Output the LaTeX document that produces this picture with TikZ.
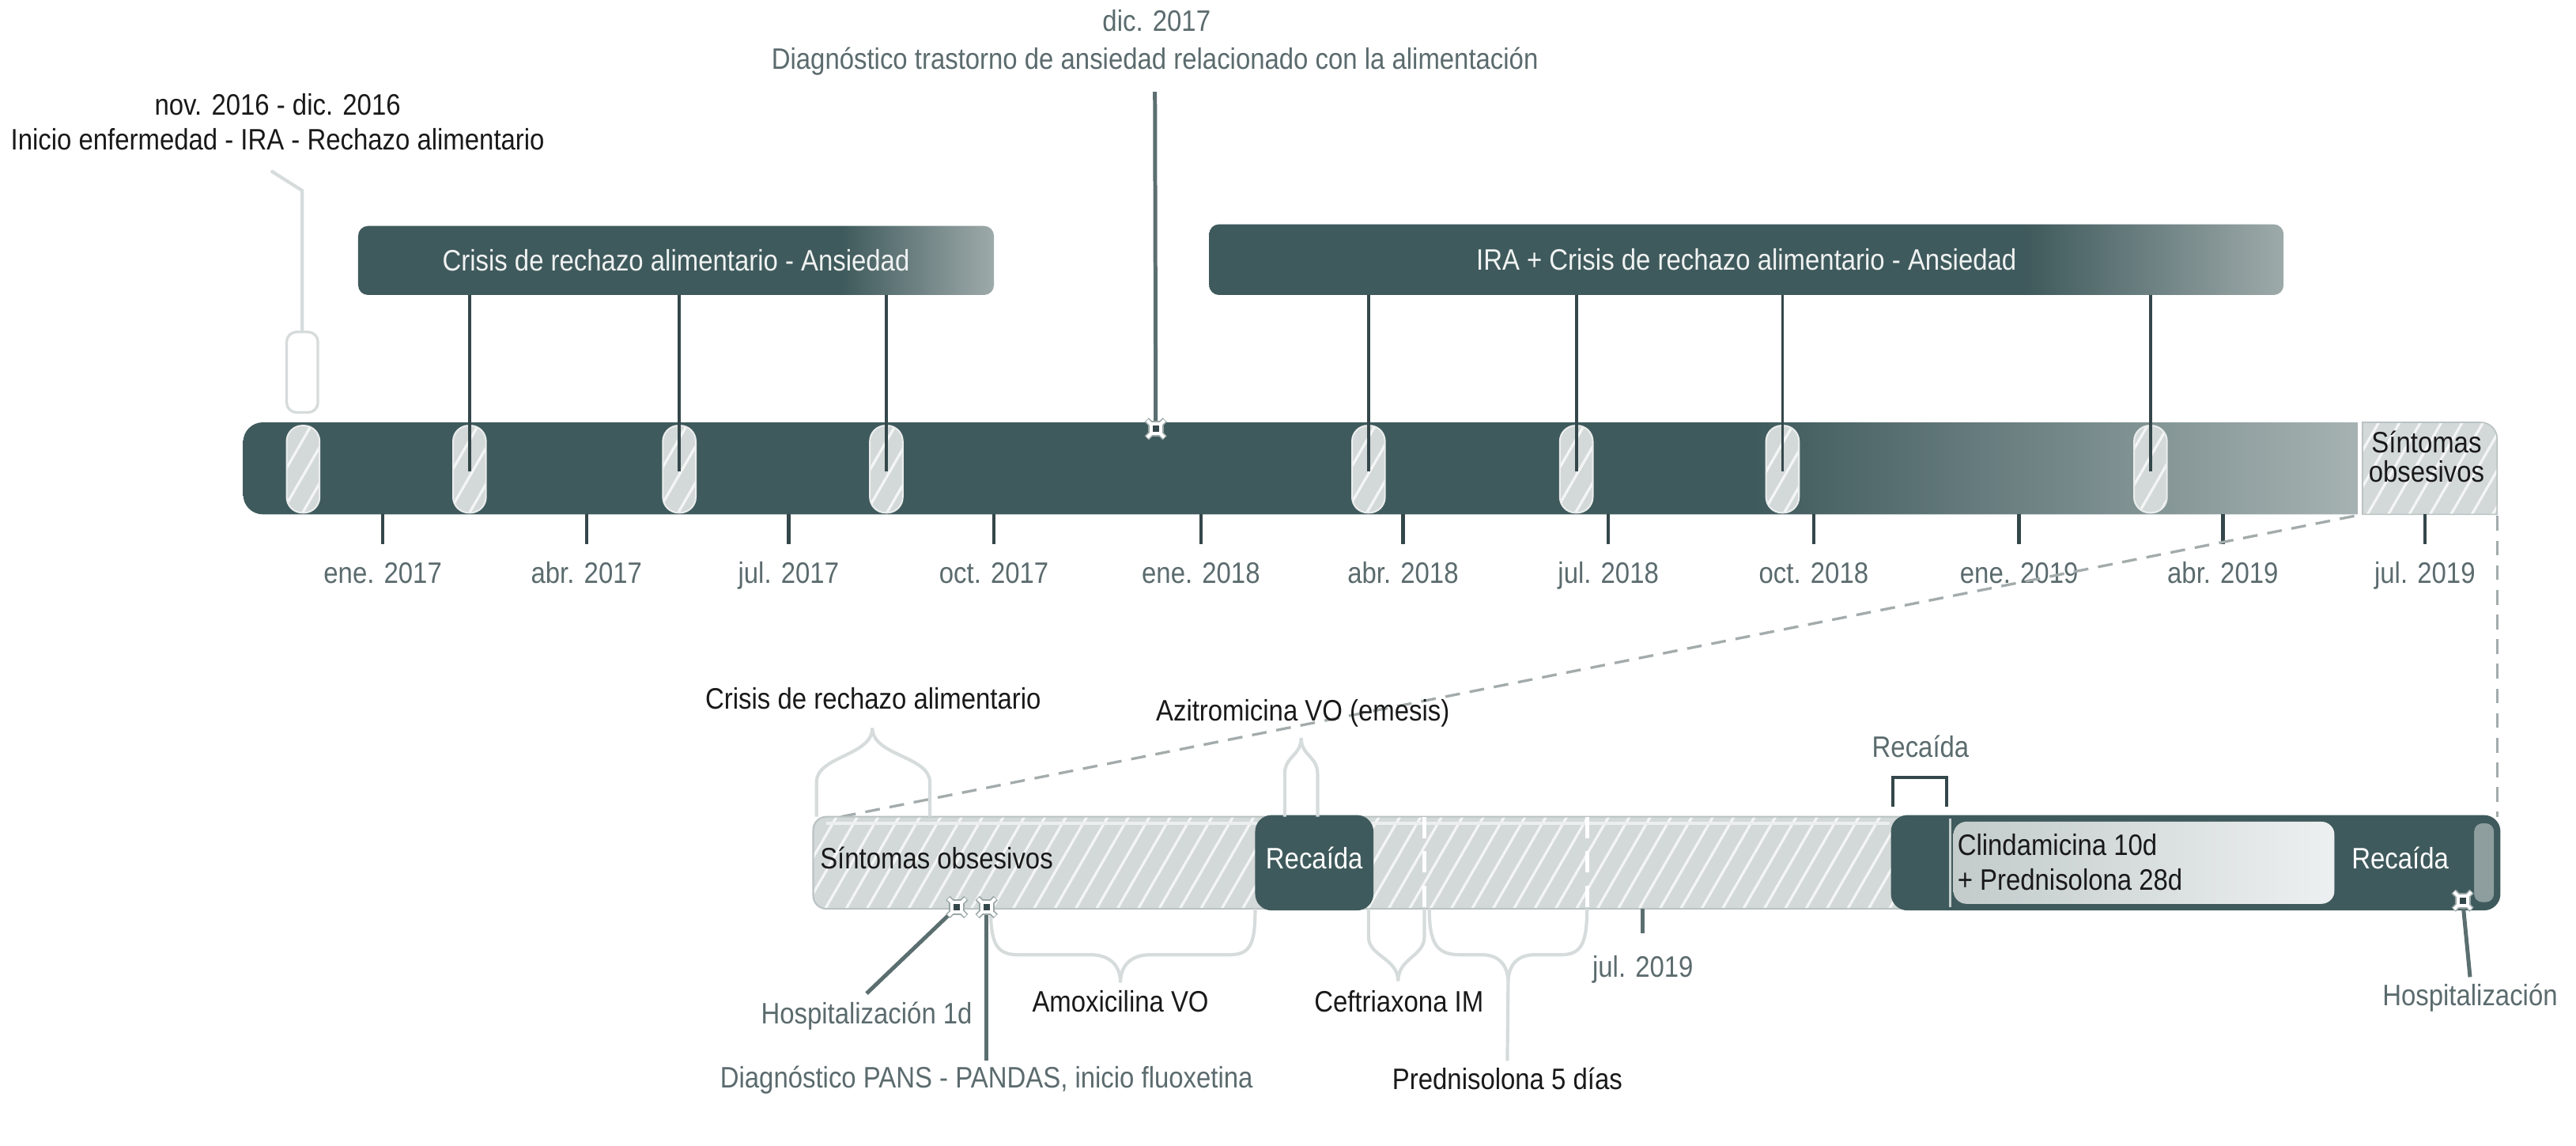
\documentclass[tikz,border=0pt]{standalone}
\usepackage{fontspec}
\setmainfont{Liberation Sans}[FakeStretch=0.88]
\usetikzlibrary{patterns.meta,calc}

\definecolor{tealD}{HTML}{3F5A5C}
\definecolor{tealL}{HTML}{A6B2B2}
\definecolor{boxL}{HTML}{9EAAAA}
\definecolor{hatchF}{HTML}{D3D8D8}
\definecolor{hatchB}{HTML}{BAC2C2}
\definecolor{txtG}{HTML}{5B6B6E}
\definecolor{lineD}{HTML}{34474A}
\definecolor{lineM}{HTML}{5B6E70}
\definecolor{braceC}{HTML}{D6DBDB}
\definecolor{dashC}{HTML}{A3ABAB}
\definecolor{endG}{HTML}{8E9E9E}
\definecolor{clindL}{HTML}{C3CBCB}
\definecolor{clindR}{HTML}{EDF0F0}
\definecolor{mkEdge}{HTML}{9AA6A6}

\pgfdeclarehorizontalshading{barshade}{100bp}{color(0bp)=(tealD); color(25bp)=(tealD); color(60bp)=(tealD); color(74bp)=(tealL); color(100bp)=(tealL)}
\pgfdeclarehorizontalshading{boxshade}{100bp}{color(0bp)=(tealD); color(25bp)=(tealD); color(63bp)=(tealD); color(75bp)=(boxL); color(100bp)=(boxL)}

\newcommand{\fs}{\fontsize{18}{21}\selectfont}

\begin{document}
\begin{tikzpicture}[x=1pt,y=-1pt,
  lbl/.style={font=\fs, text=black!90, inner sep=0pt, anchor=base},
  glbl/.style={lbl, text=txtG},
  wlbl/.style={lbl, text=white},
  hatch/.style={preaction={fill=hatchF}, pattern={Lines[angle=60,distance=11pt,line width=1.6pt]}, pattern color=white!75!hatchF},
  capsule/.style={hatch, draw=white!55!hatchF, line width=1pt, rounded corners=9.5pt},
  topbox/.style={shading=boxshade, rounded corners=6pt, font=\fs, text=white!92!tealD, inner sep=0pt},
  conn/.style={draw=lineD, line width=1.8pt},
  connM/.style={draw=lineM, line width=2.4pt},
  tickln/.style={draw=lineD, line width=2.2pt},
  brace/.style={draw=braceC, line width=2pt},
  zoomln/.style={draw=dashC, line width=1.6pt, dash pattern=on 9pt off 6pt},
  marker/.pic={
    \draw[mkEdge, line width=3.6pt] (-5.5,-5.5) -- (5.5,5.5) (-5.5,5.5) -- (5.5,-5.5);
    \fill[mkEdge] (-4.8,-4.8) rectangle (4.8,4.8);
    \draw[white, line width=2pt] (-5.2,-5.2) -- (5.2,5.2) (-5.2,5.2) -- (5.2,-5.2);
    \fill[white] (-3.8,-3.8) rectangle (3.8,3.8);
    \fill[lineD] (-2,-2) rectangle (2,2);
  }
]
\useasboundingbox (0,0) rectangle (1568,697);
\fill[white] (0,0) rectangle (1568,697);

% ---------- top texts ----------
\node[lbl] (t0a) at (169,70) {nov. 2016 - dic. 2016};
\node[lbl] (t0b) at (169,91) {Inicio enfermedad - IRA - Rechazo alimentario};
\node[glbl] (tda) at (704,19) {dic. 2017};
\node[glbl] (tdb) at (703,42) {Diagnóstico trastorno de ansiedad relacionado con la alimentación};

% ---------- top boxes ----------
\node[topbox, minimum width=387pt, minimum height=42pt] (b1) at (411.5,158.5) {Crisis de rechazo alimentario - Ansiedad};
\node[topbox, minimum width=654pt, minimum height=43pt] (b2) at (1063,158) {IRA + Crisis de rechazo alimentario - Ansiedad};

% ---------- main bar ----------
\begin{scope}
  \clip (140,250) rectangle (1435,320);
  \shade[shading=barshade, rounded corners=12pt] (148,257) rectangle (1460,313);
\end{scope}
\path[hatch, draw=hatchB, line width=0.8pt] (1438,313) -- (1438,257) -- (1510,257)
   arc[start angle=-90, end angle=0, radius=10] -- (1520,313) -- cycle;
\node[lbl, align=center, font=\fontsize{18}{18}\selectfont, anchor=center] (sint) at (1477,278) {Síntomas\\obsesivos};

% capsules
\foreach \n/\x in {c0/184.5, c1/285.8, c2/413.5, c3/539.5, c4/833, c5/959.5, c6/1085, c7/1309} {
  \path[capsule] (\x-10,259) rectangle (\x+10,312);
  \coordinate (\n) at (\x,287);
}

% connectors from boxes
\foreach \c in {c1,c2,c3} \draw[conn] (\c |- b1.south) -- (\c);
\foreach \c in {c4,c5,c6,c7} \draw[conn] (\c |- b2.south) -- (\c);

% first event connector
\coordinate (k0) at (165,104);
\coordinate (k1) at (184,116);
\coordinate (k2) at (184,202);
\draw[draw=braceC, line width=2pt] (k0) -- (k1) -- (k2);
\draw[draw=braceC, line width=1.6pt, rounded corners=6pt] (174.5,202) rectangle (193.5,251);

% dic 2017 connector
\coordinate (md) at (703.5,261);
\draw[connM] ([yshift=-10pt]tdb.south) -- (md);
\pic at (md) {marker};

% ticks and labels
\foreach \x/\t in {233/ene. 2017, 357/abr. 2017, 480/jul. 2017, 605/oct. 2017, 731/ene. 2018, 854/abr. 2018, 979/jul. 2018, 1104/oct. 2018, 1229/ene. 2019, 1353/abr. 2019, 1476/jul. 2019} {
  \draw[tickln] (\x,313) -- (\x,331);
  \node[glbl] at (\x,355) {\t};
}

% ---------- zoom lines ----------
\coordinate (zA) at (1433,314);
\coordinate (zB) at (1520,314);
\coordinate (zC) at (512,497);
\coordinate (zD) at (1520,497);
\draw[zoomln] (zA) -- (zC);
\draw[zoomln] (zB) -- (zD);

% ---------- lower bar ----------
\path[hatch, draw=hatchB, line width=1pt, rounded corners=8pt] (495,497) rectangle (1170,553);
\draw[white!60!hatchF, line width=1.5pt] (503,501) -- (1150,501);
\fill[tealD, rounded corners=10pt] (1151,496) rectangle (1522,554);
\draw[white!70!tealD, line width=1.5pt] (1187,498) -- (1187,552);
\shade[left color=clindL, right color=clindR, rounded corners=8pt] (1189,500) rectangle (1421,550);
\fill[endG, rounded corners=5pt] (1506,501) rectangle (1518,549);
\fill[tealD, rounded corners=10pt] (1421,497) rectangle (1506,553);

\fill[tealD, rounded corners=10pt] (764,496) rectangle (836,554);
\node[wlbl] (r1) at (800,528.5) {Recaída};
\node[wlbl] (r3) at (1461,528.5) {Recaída};
\draw[white, line width=2.5pt, dash pattern=on 13pt off 8pt] (867,497) -- (867,553);
\draw[white, line width=2.5pt, dash pattern=on 13pt off 8pt] (966,497) -- (966,553);

\node[lbl, anchor=base west] (so) at (499,528.5) {Síntomas obsesivos};
\node[lbl, anchor=center, align=left] (cl) at (1260,524.5) {Clindamicina 10d\\+ Prednisolona 28d};

% upper braces and labels
\node[lbl] (crl) at (531.5,431.5) {Crisis de rechazo alimentario};
\draw[brace] (497,497) -- (497,476) .. controls (497,460) and (531,460) .. (531,443)
             .. controls (531,460) and (566,460) .. (566,476) -- (566,497);
\node[lbl] (azi) at (793,438.5) {Azitromicina VO (emesis)};
\draw[brace] (782,497) -- (782,471) .. controls (782,460) and (792,460) .. (792,449)
             .. controls (792,460) and (802,460) .. (802,471) -- (802,497);

\node[glbl] (rec2) at (1169,461) {Recaída};
\draw[draw=lineD, line width=2pt] (1152,491) -- (1152,473) -- (1185,473) -- (1185,491);

% lower braces
\draw[brace] (603,553) .. controls (603,575) and (607,581) .. (620,581) -- (664,581)
             .. controls (676,581) and (682,588) .. (682,598)
             .. controls (682,588) and (688,581) .. (700,581) -- (748,581)
             .. controls (761,581) and (764,575) .. (764,553);
\node[lbl] (amo) at (682,616) {Amoxicilina VO};

\draw[brace] (833,553) -- (833,570) .. controls (833,582) and (851,583) .. (851,597)
             .. controls (851,583) and (867,582) .. (867,570) -- (867,553);
\node[lbl] (cef) at (851.5,616) {Ceftriaxona IM};

\draw[brace] (870,553) .. controls (870,575) and (875,581) .. (889,581) -- (902,581)
             .. controls (913,581) and (918,588) .. (918,598)
             .. controls (918,588) and (923,581) .. (934,581) -- (950,581)
             .. controls (962,581) and (966,575) .. (966,553);
\node[lbl] (pre) at (917.5,663) {Prednisolona 5 días};
\draw[brace] (918,598) -- ([yshift=4pt]pre.north);

% jul 2019 lower tick
\coordinate (jt) at (1000,553);
\draw[draw=lineM, line width=2.4pt] (jt) -- (1000,568);
\node[glbl] (jl) at (1000,594.5) {jul. 2019};

% markers and their labels
\coordinate (m1) at (582.5,552);
\coordinate (m2) at (600.5,552);
\coordinate (m3) at (1499,548);
\node[glbl] (h1) at (527.5,623) {Hospitalización 1d};
\node[glbl] (dp) at (600.5,662) {Diagnóstico PANS - PANDAS, inicio fluoxetina};
\node[glbl] (h2) at (1503.5,612) {Hospitalización};
\draw[connM] (m1) -- ([yshift=5pt]h1.north);
\draw[connM] (m2) -- ([yshift=3pt]dp.north);
\draw[connM] (m3) -- ([yshift=4pt]h2.north);
\pic at (m1) {marker};
\pic at (m2) {marker};
\pic at (m3) {marker};
\end{tikzpicture}
\end{document}
